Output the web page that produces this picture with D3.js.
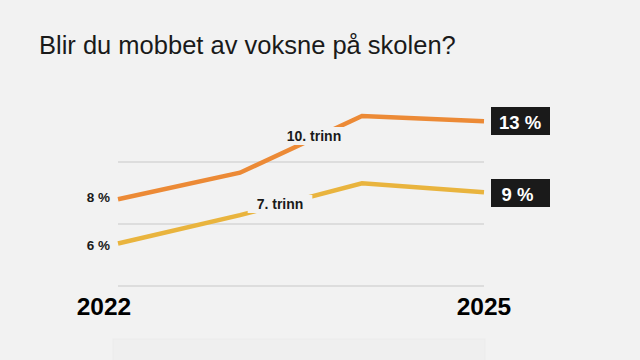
<!DOCTYPE html>
<html><head><meta charset="utf-8">
<script src="https://cdn.jsdelivr.net/npm/d3@7"></script>
<style>html,body{margin:0;padding:0;background:#f2f2f2;}svg{display:block;font-family:"Liberation Sans",Arial,sans-serif;}</style>
</head><body>
<svg id="c" width="640" height="360"></svg>
<script>
const title = "Blir du mobbet av voksne på skolen?";
const years = [2022, 2023, 2024, 2025];
const yearTicks = [2022, 2025];
const seriesNames = ["10. trinn", "7. trinn"];
const trinn10 = [8.4, 9.9, 13.1, 12.8];
const trinn7 = [5.9, 7.5, 9.3, 8.8];
const startLabels = ["8 %", "6 %"];
const endLabels = ["13 %", "9 %"];
const gridValues = [3.5, 7, 10.5];
const colors = ["#ec8a36", "#e9b43e"];

const svg = d3.select("#c");
svg.append("rect").attr("width", 640).attr("height", 360).attr("fill", "#f2f2f2");

const x = d3.scaleLinear().domain([2022, 2025]).range([118, 484]);
const y = d3.scaleLinear().domain([0, 15]).range([348, 348 - 15 * 17.71]);

svg.append("text").attr("x", 39).attr("y", 54).attr("font-size", 25.5)
  .attr("fill", "#1a1a1a").text(title);

// faint bottom panel
svg.append("rect").attr("x", 113).attr("y", 339).attr("width", 372).attr("height", 30)
  .attr("fill", "#efefef").attr("stroke", "#ebebeb");

// grid
svg.append("g").selectAll("line").data(gridValues).join("line")
  .attr("x1", x(2022)).attr("x2", x(2025))
  .attr("y1", d => y(d)).attr("y2", d => y(d))
  .attr("stroke", "#d6d6d6").attr("stroke-width", 1.5);

const series = [trinn10, trinn7];
const line = d3.line().x((d, i) => x(years[i])).y(d => d);
series.forEach((s, k) => {
  svg.append("path").datum(s.map(v => y(v)))
    .attr("d", line).attr("fill", "none")
    .attr("stroke", colors[k]).attr("stroke-width", 4.5)
    .attr("stroke-linejoin", "miter");
});

// inline series labels with background knockout
const inlinePos = [{cx: 314, by: 141}, {cx: 280, by: 209}];
seriesNames.forEach((n, k) => {
  const g = svg.append("g");
  const t = g.append("text").attr("x", inlinePos[k].cx).attr("y", inlinePos[k].by)
    .attr("text-anchor", "middle").attr("font-size", 14).attr("font-weight", "bold")
    .attr("fill", "#1a1a1a").text(n);
  const bb = t.node().getBBox();
  g.insert("rect", "text").attr("x", bb.x - 9).attr("y", bb.y - 1)
    .attr("width", bb.width + 18).attr("height", bb.height + 2).attr("fill", "#f2f2f2");
});

// start labels
const startBase = [202, 250];
startLabels.forEach((l, k) => {
  svg.append("text").attr("x", 110).attr("y", startBase[k])
    .attr("text-anchor", "end")
    .attr("font-size", 13.5).attr("font-weight", "bold").attr("fill", "#1a1a1a").text(l);
});

// end label boxes
const boxY = [107, 179];
endLabels.forEach((l, k) => {
  svg.append("rect").attr("x", 491).attr("y", boxY[k]).attr("width", 59).attr("height", 28)
    .attr("fill", "#1a1a1a");
  svg.append("text").attr("x", k === 0 ? 499 : 501.5).attr("y", boxY[k] + 21.5)
    .attr("font-size", 18.5).attr("font-weight", "bold").attr("fill", "#ffffff").text(l);
});

// year axis labels
svg.append("g").selectAll("text").data(yearTicks).join("text")
  .attr("x", d => d === 2022 ? x(d) - 14 : x(d))
  .attr("y", 315).attr("text-anchor", "middle")
  .attr("font-size", 24.5).attr("font-weight", "bold").attr("fill", "#000")
  .text(d => d);
</script>
</body></html>
